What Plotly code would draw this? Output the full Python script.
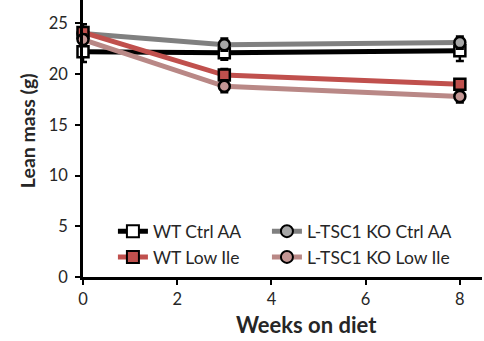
import plotly.graph_objects as go

weeks = [0, 3, 8]
series_names = ["WT Ctrl AA", "L-TSC1 KO Ctrl AA", "WT Low Ile", "L-TSC1 KO Low Ile"]
wt_ctrl = [22.2, 22.1, 22.3]
ko_ctrl = [24.0, 22.9, 23.1]
wt_low = [24.1, 19.9, 19.0]
ko_low = [23.4, 18.8, 17.8]
wt_ctrl_err = [1.0, 0.7, 1.0]
ko_ctrl_err = [0.5, 0.6, 0.6]
wt_low_err = [0.8, 0.6, 0.5]
ko_low_err = [0.5, 0.6, 0.6]
x_title = "Weeks on diet"
y_title = "Lean mass (g)"

values = [wt_ctrl, ko_ctrl, wt_low, ko_low]
errors = [wt_ctrl_err, ko_ctrl_err, wt_low_err, ko_low_err]
line_colors = ["#000000", "#808080", "#C0504D", "#B98886"]
fill_colors = ["#FFFFFF", "#A6A6A6", "#C0504D", "#C49694"]
symbols = ["square", "circle", "square", "circle"]
legend_ids = ["legend", "legend2", "legend", "legend2"]

fig = go.Figure()
for name, v, e, lc, fc, s, lg in zip(series_names, values, errors, line_colors, fill_colors, symbols, legend_ids):
    fig.add_trace(go.Scatter(
        x=weeks, y=v, name=name, mode="lines+markers", legend=lg,
        line=dict(color=lc, width=5),
        marker=dict(symbol=s, size=11, color=fc, line=dict(color="#000000", width=2.5)),
        error_y=dict(type="data", array=e, color="#000000", thickness=2.5, width=4),
        cliponaxis=False,
    ))

font_family = "Lato, Open Sans, sans-serif"
txt = "#262626"
legend_common = dict(
    orientation="v", yanchor="top", xanchor="left",
    font=dict(size=17.5, color=txt),
    bgcolor="rgba(0,0,0,0)", tracegroupgap=0, itemsizing="constant",
)
fig.update_layout(
    width=484, height=341,
    margin=dict(l=83, r=2, t=0, b=64),
    plot_bgcolor="white", paper_bgcolor="white",
    font=dict(family=font_family, size=16, color=txt),
    showlegend=True,
    legend=dict(x=0.075, y=0.23, **legend_common),
    legend2=dict(x=0.461, y=0.23, **legend_common),
    xaxis=dict(
        range=[0, 8.47], tickvals=[0, 2, 4, 6, 8], showgrid=False, zeroline=False,
        showline=True, linecolor="black", linewidth=2.5,
        ticks="outside", ticklen=5, tickwidth=2, tickcolor="black",
        tickfont=dict(size=16.5),
    ),
    yaxis=dict(
        range=[0, 27.3], tickvals=[0, 5, 10, 15, 20, 25], showgrid=False, zeroline=False,
        showline=True, linecolor="black", linewidth=2.5,
        ticks="outside", ticklen=5, tickwidth=2, tickcolor="black",
        tickfont=dict(size=16.5), ticklabelstandoff=4,
    ),
    annotations=[
        dict(text="<b>" + x_title + "</b>", xref="paper", yref="paper",
             x=0.561, y=-0.17, xanchor="center", yanchor="middle",
             showarrow=False, font=dict(size=22, color=txt)),
        dict(text="<b>" + y_title + "</b>", xref="paper", yref="paper",
             x=-0.14, y=0.527, xanchor="center", yanchor="middle", textangle=-90,
             showarrow=False, font=dict(size=19.5, color=txt)),
    ],
)
fig.write_html("out.html")
